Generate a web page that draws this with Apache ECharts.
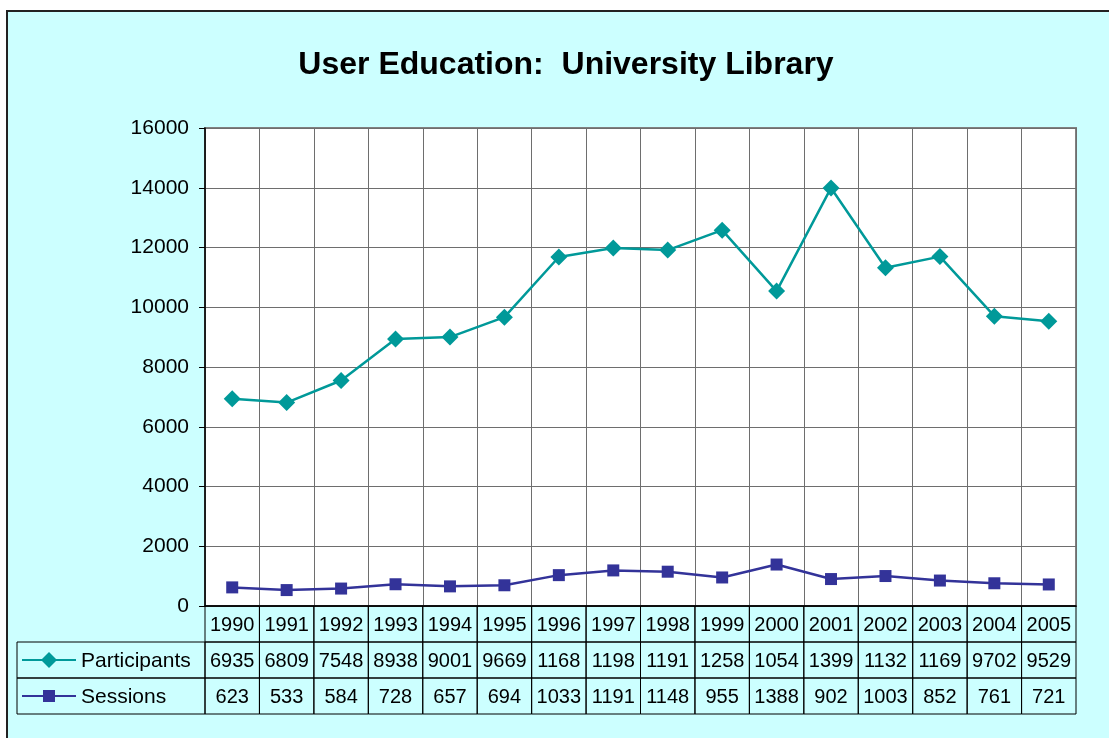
<!DOCTYPE html>
<html>
<head>
<meta charset="utf-8">
<script src="https://cdn.jsdelivr.net/npm/echarts@6/dist/echarts.min.js"></script>
<style>
  html, body { margin: 0; padding: 0; background: #fff; }
  #chart { width: 1109px; height: 738px; }
</style>
</head>
<body>
<div id="chart"></div>
<script>
  // data
  const years = ['1990', '1991', '1992', '1993', '1994', '1995', '1996', '1997',
                 '1998', '1999', '2000', '2001', '2002', '2003', '2004', '2005'];
  const participants = [6935, 6809, 7548, 8938, 9001, 9669, 11683, 11984,
                        11913, 12581, 10542, 13994, 11321, 11695, 9702, 9529];
  const sessions = [623, 533, 584, 728, 657, 694, 1033, 1191,
                    1148, 955, 1388, 902, 1003, 852, 761, 721];
  const yMin = 0, yMax = 16000, yStep = 2000;

  const FONT = 'Liberation Sans, Arial, sans-serif';
  const TEAL = '#009999';
  const NAVY = '#333399';

  const chart = echarts.init(document.getElementById('chart'));

  chart.setOption({
    backgroundColor: '#fff',
    animation: false,
    title: {
      text: 'User Education:  University Library',
      left: 561,
      textAlign: 'center',
      top: 44,
      textStyle: { fontFamily: FONT, fontSize: 32, fontWeight: 'bold', color: '#000' }
    },
    grid: {
      left: 205, top: 128, right: 33, bottom: 132,
      show: true, backgroundColor: '#fff', borderColor: '#808080', borderWidth: 2
    },
    xAxis: {
      type: 'category',
      data: years,
      boundaryGap: true,
      axisLine: { lineStyle: { color: '#000', width: 1.5 } },
      axisTick: { show: false, interval: 0 },
      axisLabel: { show: false, interval: 0 },
      splitLine: { show: true, interval: 0, lineStyle: { color: '#6e6e6e', width: 1 } }
    },
    yAxis: {
      type: 'value',
      min: yMin, max: yMax, interval: yStep,
      axisLine: { show: true, lineStyle: { color: '#000', width: 1.5 } },
      axisTick: { show: true, length: 6, lineStyle: { color: '#000' } },
      axisLabel: { color: '#000', fontFamily: FONT, fontSize: 21, margin: 16,
                   formatter: v => String(v) },
      splitLine: { show: true, lineStyle: { color: '#6e6e6e', width: 1 } }
    },
    series: [
      {
        name: 'Participants', type: 'line', data: participants,
        symbol: 'diamond', symbolSize: 17,
        itemStyle: { color: TEAL }, lineStyle: { color: TEAL, width: 2.5 }
      },
      {
        name: 'Sessions', type: 'line', data: sessions,
        symbol: 'rect', symbolSize: 12,
        itemStyle: { color: NAVY }, lineStyle: { color: NAVY, width: 2.5 }
      }
    ]
  });

  // data table under the plot, cells placed from the category axis
  const centers = years.map((y, i) => chart.convertToPixel({ xAxisIndex: 0 }, i));
  const colW = centers[1] - centers[0];
  const plotBottom = chart.convertToPixel({ yAxisIndex: 0 }, yMin);
  const rowH = 36;
  const legendLeft = 17;
  const plotLeft = centers[0] - colW / 2;

  const els = [{
    type: 'rect', z: -10,
    shape: { x: 7, y: 11, width: 1300, height: 900 },
    style: { fill: '#ccffff', stroke: '#222', lineWidth: 2 }
  }];

  const rows = [
    { labels: years, top: plotBottom },
    { labels: participants.map(v => String(v).slice(0, 4)), top: plotBottom + rowH, name: 'Participants', color: TEAL, mark: 'diamond' },
    { labels: sessions.map(v => String(v)), top: plotBottom + 2 * rowH, name: 'Sessions', color: NAVY, mark: 'square' }
  ];

  rows.forEach(row => {
    const cy = row.top + rowH / 2;
    row.labels.forEach((t, i) => {
      els.push({
        type: 'rect', z: 5,
        shape: { x: centers[i] - colW / 2, y: row.top, width: colW, height: rowH },
        style: { fill: 'transparent', stroke: '#000', lineWidth: 1 }
      });
      els.push({
        type: 'text', z: 6,
        style: { text: t, x: centers[i], y: cy + 1, align: 'center', verticalAlign: 'middle',
                 fill: '#000', font: '20px ' + FONT }
      });
    });
    if (row.name) {
      els.push({
        type: 'rect', z: 5,
        shape: { x: legendLeft, y: row.top, width: plotLeft - legendLeft, height: rowH },
        style: { fill: 'transparent', stroke: '#000', lineWidth: 1 }
      });
      els.push({
        type: 'line', z: 6,
        shape: { x1: 22, y1: cy, x2: 76, y2: cy },
        style: { stroke: row.color, lineWidth: 2 }
      });
      if (row.mark === 'diamond') {
        els.push({
          type: 'polygon', z: 7,
          shape: { points: [[49, cy - 8], [57, cy], [49, cy + 8], [41, cy]] },
          style: { fill: row.color }
        });
      } else {
        els.push({
          type: 'rect', z: 7,
          shape: { x: 43, y: cy - 6, width: 12, height: 12 },
          style: { fill: row.color }
        });
      }
      els.push({
        type: 'text', z: 6,
        style: { text: row.name, x: 81, y: cy + 1, align: 'left', verticalAlign: 'middle',
                 fill: '#000', font: '21px ' + FONT }
      });
    }
  });

  chart.setOption({ graphic: { elements: els } });
</script>
</body>
</html>
